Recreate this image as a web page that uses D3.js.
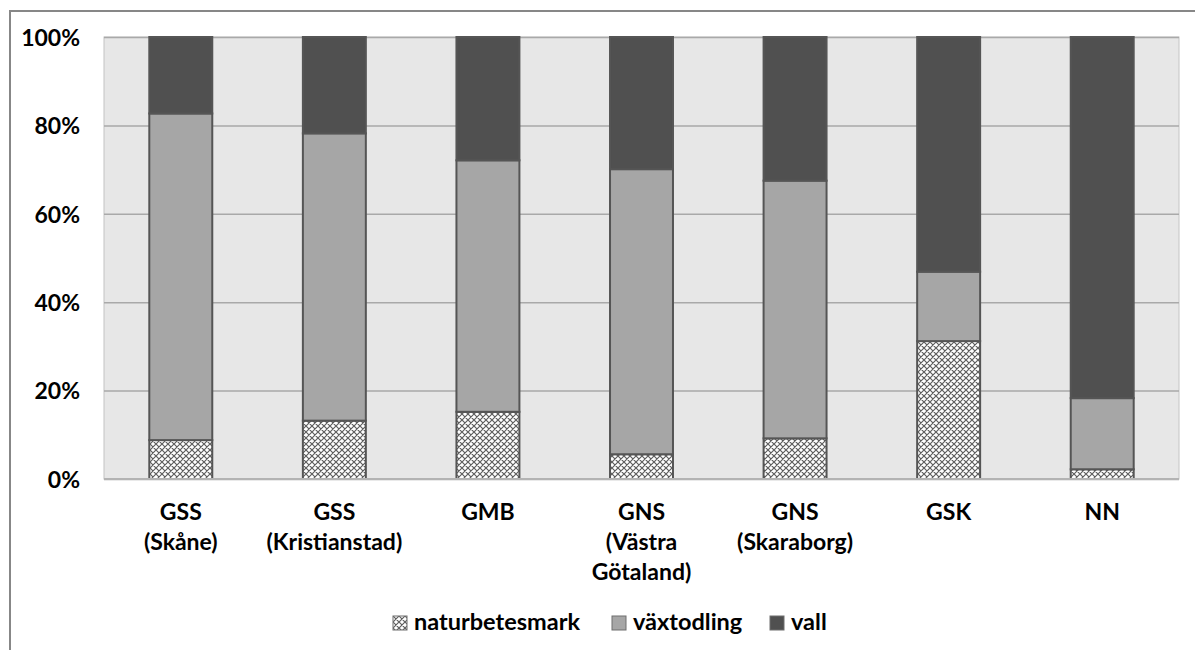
<!DOCTYPE html>
<html>
<head>
    <meta charset="utf-8">
    <title>Markanvändning</title>
    <script src="https://cdn.jsdelivr.net/npm/d3@7"></script>
    <style>
        body { margin: 0; background: #fff; }
        svg text { font-family: Lato, "Open Sans", sans-serif; font-weight: 700; fill: #000; }
    </style>
</head>
<body>
<svg id="chart" width="1195" height="650"></svg>

<script>
    // data (percent of total)
    const categories = [
        ["GSS", "(Skåne)"],
        ["GSS", "(Kristianstad)"],
        ["GMB"],
        ["GNS", "(Västra", "Götaland)"],
        ["GNS", "(Skaraborg)"],
        ["GSK"],
        ["NN"]
    ];
    const naturbetesmark = [8.8, 13.2, 15.2, 5.6, 9.2, 31.2, 2.2];
    const vaxtodling = [73.9, 65.0, 56.9, 64.5, 58.3, 15.7, 16.1];
    const vall = [17.3, 21.8, 27.9, 29.9, 32.5, 53.1, 81.7];
    const seriesNames = ["naturbetesmark", "växtodling", "vall"];
    const yTicks = [0, 20, 40, 60, 80, 100];

    const svg = d3.select('#chart');
    const plot = {left: 104, top: 37, right: 1179, bottom: 479};

    // crosshatch pattern for naturbetesmark
    const defs = svg.append("defs");
    const pat = defs.append("pattern")
        .attr("id", "hatch")
        .attr("patternUnits", "userSpaceOnUse")
        .attr("width", 6)
        .attr("height", 6);
    pat.append("rect").attr("width", 6).attr("height", 6).attr("fill", "#fff");
    pat.append("path")
        .attr("d", "M0,0L6,6M6,0L0,6M-1,5L1,7M5,-1L7,1M-1,1L1,-1M5,7L7,5")
        .attr("stroke", "#5e5e5e")
        .attr("stroke-width", 1.2);

    const fills = ["url(#hatch)", "#a6a6a6", "#505050"];

    // outer chart border (runs off the right/bottom edges)
    svg.append("path")
        .attr("d", "M10,660V11H1200")
        .attr("fill", "none")
        .attr("stroke", "#878787")
        .attr("stroke-width", 2);

    const idx = d3.range(categories.length);

    const x = d3.scaleBand()
        .domain(idx)
        .range([plot.left, plot.right])
        .paddingInner(0.59)
        .paddingOuter(0.295);

    const y = d3.scaleLinear()
        .domain([0, 100])
        .range([plot.bottom, plot.top]);

    // plot area background
    svg.append("rect")
        .attr("x", plot.left)
        .attr("y", plot.top)
        .attr("width", plot.right - plot.left)
        .attr("height", plot.bottom - plot.top)
        .attr("fill", "#e7e7e7")
        .attr("stroke", "#c4c4c4")
        .attr("stroke-width", 1);

    // gridlines
    svg.append("g")
        .attr("transform", `translate(${plot.left},0)`)
        .call(d3.axisLeft(y).tickValues(yTicks).tickSize(-(plot.right - plot.left)).tickFormat(""))
        .call(g => g.select(".domain").remove())
        .call(g => g.selectAll("line").attr("stroke", "#a9a9a9").attr("stroke-width", 1.5));

    // y axis labels
    svg.append("g")
        .attr("transform", `translate(80,0)`)
        .call(d3.axisLeft(y).tickValues(yTicks).tickSize(0).tickPadding(0).tickFormat(d => d + "%"))
        .call(g => g.select(".domain").remove())
        .call(g => g.selectAll("text").attr("font-size", "23px").attr("dy", "0.36em")
            .style("font-family", "Lato, 'Open Sans', sans-serif").style("font-weight", 700));

    // stacked bars
    const rows = idx.map(i => ({i: i, naturbetesmark: naturbetesmark[i], "växtodling": vaxtodling[i], vall: vall[i]}));
    const stack = d3.stack().keys(seriesNames)(rows);

    svg.append("g")
        .selectAll("g")
        .data(stack)
        .join("g")
        .attr("fill", (d, k) => fills[k])
        .selectAll("rect")
        .data(d => d)
        .join("rect")
        .attr("x", d => x(d.data.i))
        .attr("width", x.bandwidth())
        .attr("y", d => y(d[1]))
        .attr("height", d => y(d[0]) - y(d[1]))
        .attr("stroke", "#555")
        .attr("stroke-width", 2);

    // bottom axis line
    svg.append("line")
        .attr("x1", plot.left)
        .attr("x2", plot.right)
        .attr("y1", plot.bottom)
        .attr("y2", plot.bottom)
        .attr("stroke", "#b3b3b3")
        .attr("stroke-width", 2);

    // category labels (multi line)
    const catLabels = svg.append("g")
        .selectAll("text")
        .data(categories)
        .join("text")
        .attr("text-anchor", "middle")
        .attr("font-size", "23px")
        .attr("x", (d, i) => x(i) + x.bandwidth() / 2)
        .attr("y", 520);
    catLabels.selectAll("tspan")
        .data(d => d)
        .join("tspan")
        .attr("x", function () { return d3.select(this.parentNode).attr("x"); })
        .attr("dy", (d, j) => j === 0 ? 0 : 30)
        .text(d => d);

    // legend
    const legendItems = [
        {name: seriesNames[0], fill: fills[0], x: 393},
        {name: seriesNames[1], fill: fills[1], x: 612},
        {name: seriesNames[2], fill: fills[2], x: 770}
    ];
    const legend = svg.append("g").attr("class", "legend");
    const li = legend.selectAll("g")
        .data(legendItems)
        .join("g")
        .attr("transform", d => `translate(${d.x},616)`);
    li.append("rect")
        .attr("width", 14)
        .attr("height", 14)
        .attr("fill", d => d.fill)
        .attr("stroke", "#6e6e6e")
        .attr("stroke-width", 1);
    li.append("text")
        .attr("x", 21)
        .attr("y", 14)
        .attr("font-size", "23.5px")
        .text(d => d.name);
</script>
</body>
</html>
